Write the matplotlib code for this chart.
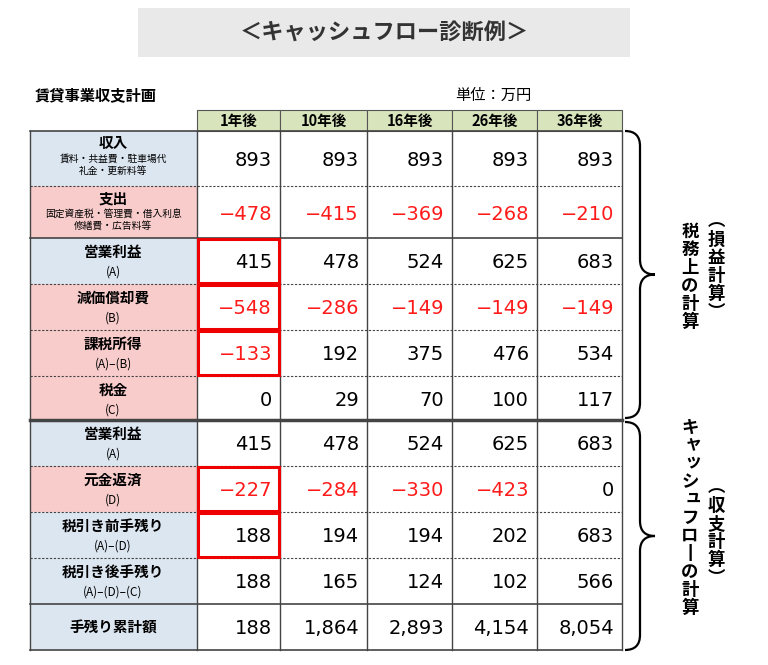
import matplotlib
matplotlib.use("Agg")
import matplotlib.pyplot as plt
from matplotlib.patches import Rectangle, PathPatch
from matplotlib.path import Path

plt.rcParams["font.family"] = "Noto Sans CJK JP"

years = ["1年後", "10年後", "16年後", "26年後", "36年後"]
row_titles = ["収入", "支出", "営業利益", "減価償却費", "課税所得", "税金",
              "営業利益", "元金返済", "税引き前手残り", "税引き後手残り", "手残り累計額"]
row_subs = ["賃料・共益費・駐車場代\n礼金・更新料等", "固定資産税・管理費・借入利息\n修繕費・広告料等",
            "(A)", "(B)", "(A)–(B)", "(C)", "(A)", "(D)", "(A)–(D)", "(A)–(D)–(C)", ""]
row_kinds = ["b", "p", "b", "p", "p", "p", "b", "p", "b", "b", "b"]
values = [
    [893, 893, 893, 893, 893],
    [-478, -415, -369, -268, -210],
    [415, 478, 524, 625, 683],
    [-548, -286, -149, -149, -149],
    [-133, 192, 375, 476, 534],
    [0, 29, 70, 100, 117],
    [415, 478, 524, 625, 683],
    [-227, -284, -330, -423, 0],
    [188, 194, 194, 202, 683],
    [188, 165, 124, 102, 566],
    [188, 1864, 2893, 4154, 8054],
]
highlight_rows = [2, 3, 4, 7, 8]

fig = plt.figure(figsize=(7.68, 6.65), dpi=100)
ax = fig.add_axes([0, 0, 1, 1])
ax.set_xlim(0, 768); ax.set_ylim(665, 0); ax.axis("off")

ax.add_patch(Rectangle((138, 8), 492, 49, fc="#e9e9e9", ec="none"))
ax.text(384, 33, "＜キャッシュフロー診断例＞", ha="center", va="center", fontsize=16, fontweight="bold", color="#333")
ax.text(35, 95, "賃貸事業収支計画", ha="left", va="center", fontsize=11, fontweight="bold")
ax.text(455, 95, "単位：万円", ha="left", va="center", fontsize=11)

cx = [30, 197, 280, 367, 452, 537, 622]
ry = [131, 186, 238, 284, 330, 376, 420, 466, 512, 558, 604, 650]
for j, y in enumerate(years):
    ax.add_patch(Rectangle((cx[j+1], 110), cx[j+2]-cx[j+1], 21, fc="#d8e4bc", ec="#555", lw=0.8))
    ax.text((cx[j+1]+cx[j+2])/2, 121, y, ha="center", va="center", fontsize=10.5, fontweight="bold")

for i in range(11):
    y0, y1 = ry[i], ry[i+1]
    fc = "#dce6f1" if row_kinds[i] == "b" else "#f9cccc"
    ax.add_patch(Rectangle((cx[0], y0), cx[1]-cx[0], y1-y0, fc=fc, ec="none"))
    if row_subs[i] == "":
        ax.text(113, (y0+y1)/2, row_titles[i], ha="center", va="center", fontsize=10.5, fontweight="bold")
    elif i < 2:
        ax.text(113, y0+12, row_titles[i], ha="center", va="center", fontsize=10.5, fontweight="bold")
        ax.text(113, y0+34, row_subs[i], ha="center", va="center", fontsize=7, linespacing=1.3)
    else:
        ax.text(113, y0+14, row_titles[i], ha="center", va="center", fontsize=10.5, fontweight="bold")
        ax.text(113, y0+34, row_subs[i], ha="center", va="center", fontsize=8.5)
    for j in range(5):
        v = values[i][j]
        ax.text(cx[j+2]-8, (y0+y1)/2+2, f"{v:,}".replace("-", "−"), ha="right", va="center",
                fontsize=14, color="#ff1a1a" if v < 0 else "black", family="DejaVu Sans")

for x in cx:
    ax.plot([x, x], [131, 650], color="#444", lw=1.0)
for y in ry:
    if y in (131, 650, 238, 604):
        ax.plot([30, 622], [y, y], color="#444", lw=1.2)
    elif y == 420:
        ax.plot([30, 622], [y, y], color="#444", lw=2.5)
    else:
        ax.plot([30, 622], [y, y], color="#444", lw=0.8, ls=(0, (2, 1.5)))

for i in highlight_rows:
    ax.add_patch(Rectangle((cx[1]+1, ry[i]+1), cx[2]-cx[1]-2, ry[i+1]-ry[i]-2, fc="none", ec="#ee0000", lw=2.2, zorder=5))

def brace(x0, ya, yb, w=30):
    ym = (ya+yb)/2
    xm = x0 + w/2
    verts = [(x0, ya), (xm, ya), (xm, ya+15),
             (xm, ym-15), (xm, ym), (x0+w, ym),
             (xm, ym), (xm, ym+15),
             (xm, yb-15), (xm, yb), (x0, yb)]
    codes = [Path.MOVETO, Path.CURVE3, Path.CURVE3,
             Path.LINETO, Path.CURVE3, Path.CURVE3,
             Path.CURVE3, Path.CURVE3,
             Path.LINETO, Path.CURVE3, Path.CURVE3]
    ax.add_patch(PathPatch(Path(verts, codes), fc="none", ec="black", lw=1.6))

brace(625, 131, 418)
brace(625, 422, 650)

small = set("ャッュ")
def vtext(x, y, s, step=18):
    for k, ch in enumerate(s):
        dx, dy = (3, -3) if ch in small else (0, 0)
        ax.text(x + dx, y + k*step + dy, ch, ha="center", va="center", fontsize=12.5, fontweight="bold")

vtext(690, 232, "税務上の計算")
vtext(716, 222, "︵損益計算︶")
vtext(690, 428, "キャッシュフロ丨の計算")
vtext(716, 488, "︵収支計算︶")

fig.savefig("out.png", dpi=100)
